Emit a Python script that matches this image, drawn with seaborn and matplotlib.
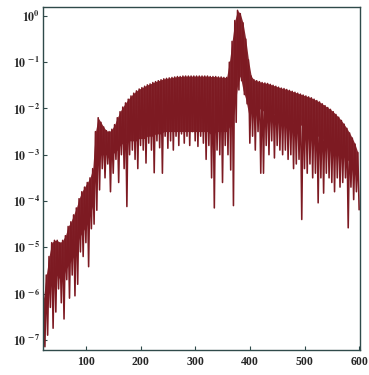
import numpy as np
import pandas as pd
import matplotlib
matplotlib.use("Agg")
import matplotlib.pyplot as plt
import seaborn as sns
from matplotlib.ticker import LogLocator, FixedLocator, MultipleLocator

# ---- data ----
osc_x = [22, 27, 32, 37, 42, 47, 52, 57, 62, 67, 72, 77, 82, 87, 92, 97,
         102, 107, 112, 117, 122, 127, 132, 137, 142, 147, 152, 157, 162, 167,
         172, 177, 182, 187, 192, 197, 202, 207, 212, 217, 222, 227, 232, 237,
         242, 247, 252, 257, 262, 267, 272, 277, 282, 287, 292, 297, 302, 307,
         312, 317, 322, 327, 332, 337, 342, 347, 352, 357, 362, 367, 372, 377,
         382, 387, 392, 397, 402, 407, 412, 417, 422, 427, 432, 437, 442, 447,
         452, 457, 462, 467, 472, 477, 482, 487, 492, 497, 502, 507, 512, 517,
         522, 527, 532, 537, 542, 547, 552, 557, 562, 567, 572, 577, 582, 587,
         592, 597]

# crest of each fringe (log10 of intensity)
peak_log10 = [-6.1, -5.6, -5.2, -4.9, -4.85, -4.85, -4.9, -4.85, -4.75, -4.55,
              -4.45, -4.3, -4.15, -3.95, -3.8, -3.7, -3.6, -3.5, -3.3, -2.5,
              -2.2, -2.3, -2.4, -2.48, -2.5, -2.45, -2.35, -2.2, -2.07, -1.97,
              -1.88, -1.8, -1.73, -1.67, -1.62, -1.58, -1.55, -1.52, -1.49, -1.47,
              -1.44, -1.42, -1.40, -1.38, -1.36, -1.35, -1.34, -1.33, -1.32, -1.31,
              -1.31, -1.30, -1.30, -1.30, -1.30, -1.30, -1.30, -1.30, -1.30, -1.30,
              -1.30, -1.31, -1.31, -1.31, -1.32, -1.32, -1.33, -1.33, -1.0, -0.55,
              -0.1, 0.12, 0.05, -0.15, -0.5, -0.95, -1.3, -1.38, -1.40, -1.42,
              -1.44, -1.45, -1.46, -1.48, -1.50, -1.52, -1.54, -1.56, -1.57, -1.59,
              -1.61, -1.63, -1.65, -1.67, -1.69, -1.71, -1.73, -1.75, -1.77, -1.80,
              -1.83, -1.86, -1.90, -1.94, -1.98, -2.02, -2.07, -2.13, -2.19, -2.26,
              -2.34, -2.43, -2.53, -2.64, -2.77, -2.95]

# lower edge of the densely filled band (log10)
floor_log10 = [-6.6, -6.2, -5.9, -5.7, -5.7, -5.6, -5.7, -5.7, -5.5, -5.4,
               -5.3, -5.2, -5.0, -4.8, -4.7, -4.6, -4.5, -4.3, -4.1, -3.4,
               -3.1, -3.0, -3.0, -3.0, -3.1, -3.0, -2.95, -2.9, -2.8, -2.75,
               -2.75, -2.7, -2.7, -2.7, -2.7, -2.65, -2.65, -2.65, -2.6, -2.6,
               -2.6, -2.55, -2.55, -2.55, -2.5, -2.5, -2.5, -2.5, -2.5, -2.5,
               -2.5, -2.5, -2.5, -2.5, -2.5, -2.5, -2.5, -2.5, -2.5, -2.5,
               -2.5, -2.55, -2.55, -2.5, -2.5, -2.5, -2.5, -2.5, -2.4, -2.3,
               -2.0, -1.5, -1.3, -1.6, -1.8, -2.1, -2.0, -2.0, -2.0, -2.0,
               -2.05, -2.05, -2.1, -2.1, -2.1, -2.15, -2.15, -2.2, -2.2, -2.25,
               -2.25, -2.3, -2.3, -2.35, -2.35, -2.4, -2.4, -2.45, -2.5, -2.55,
               -2.6, -2.6, -2.65, -2.7, -2.75, -2.8, -2.85, -2.9, -2.95, -3.0,
               -3.05, -3.1, -3.15, -3.2, -3.3, -3.45]

# deepest point of each fringe (log10)
dip_log10 = [-7.15, -6.9, -6.3, -6.75, -6.4, -5.9, -6.2, -6.55, -5.7, -6.1,
             -5.6, -6.05, -5.8, -5.1, -5.2, -4.9, -5.42, -4.6, -4.5, -4.2,
             -3.76, -3.3, -3.5, -3.2, -3.8, -3.4, -3.1, -3.6, -3.0, -3.3,
             -4.12, -3.0, -2.9, -3.1, -3.3, -2.8, -2.9, -3.18, -2.75, -2.9,
             -3.39, -2.7, -2.85, -3.4, -2.6, -2.86, -2.7, -2.9, -2.6, -2.8,
             -2.55, -2.75, -2.6, -2.8, -2.5, -2.7, -2.82, -2.6, -2.75, -3.1,
             -2.8, -3.5, -4.15, -2.9, -3.0, -3.6, -2.8, -3.0, -3.33, -4.1,
             -2.3, -1.6, -1.4, -1.7, -1.9, -2.75, -2.6, -2.9, -2.5, -3.4,
             -3.4, -2.8, -3.0, -2.7, -3.07, -2.8, -2.9, -3.0, -2.9, -3.1,
             -3.0, -3.3, -3.2, -3.1, -4.4, -3.3, -3.4, -3.2, -3.5, -3.4,
             -4.04, -3.5, -3.83, -3.4, -3.5, -3.6, -3.8, -3.5, -3.7, -3.6,
             -3.5, -4.58, -3.7, -3.97, -3.8, -4.19]

x_ticks = [100, 200, 300, 400, 500, 600]
y_decades = [-7, -6, -5, -4, -3, -2, -1, 0]

LINE_COLOR = "#7d1a22"
AX_COLOR = "#2f4a4a"

# ---- build the series: each fringe goes from its crest down to its dip ----
xs, ys = [], []
for x0, p, d in zip(osc_x, peak_log10, dip_log10):
    xs += [x0, x0 + 2.5]
    ys += [10.0 ** p, 10.0 ** d]
df = pd.DataFrame({"x": xs, "y": ys})
band = pd.DataFrame({"x": osc_x,
                     "top": [10.0 ** v for v in peak_log10],
                     "floor": [10.0 ** v for v in floor_log10]})

sns.set_style("white")
plt.rcParams["font.family"] = ["Liberation Serif", "DejaVu Serif"]
plt.rcParams["mathtext.fontset"] = "stix"

fig = plt.figure(figsize=(3.69, 3.75), dpi=100)
ax = fig.add_axes([0.1165, 0.0667, 0.859, 0.9143])

ax.fill_between(band["x"], band["top"], band["floor"], color=LINE_COLOR,
                linewidth=0, alpha=0.95)
sns.lineplot(data=df, x="x", y="y", estimator=None, sort=False,
             color=LINE_COLOR, linewidth=1.15, ax=ax)

ax.set_yscale("log")
ax.set_xlim(21, 601)
ax.set_ylim(10 ** -7.22, 10 ** 0.19)
ax.set_xlabel("")
ax.set_ylabel("")

ax.xaxis.set_major_locator(FixedLocator(x_ticks))
ax.xaxis.set_minor_locator(MultipleLocator(50))
ax.yaxis.set_major_locator(FixedLocator([10.0 ** e for e in y_decades]))
ax.yaxis.set_minor_locator(LogLocator(base=10, subs=np.arange(2, 10)))
ax.yaxis.set_minor_formatter(plt.NullFormatter())
ax.set_yticklabels([r"$\mathbf{10^{\,%d}}$" % e if e != 0 else r"$\mathbf{10^{0}}$"
                    for e in y_decades])
ax.set_xticklabels([str(t) for t in x_ticks], fontweight="bold")

ax.tick_params(axis="both", which="major", direction="in", length=3,
               width=0.8, color=AX_COLOR, labelsize=8.5, pad=2)
ax.tick_params(axis="both", which="minor", direction="in", length=1.5,
               width=0.6, color=AX_COLOR)
ax.tick_params(axis="x", which="major", pad=4)
ax.tick_params(left=True, bottom=True)

for side, sp in ax.spines.items():
    sp.set_visible(True)
    sp.set_color(AX_COLOR)
    sp.set_linewidth(1.0)

fig.savefig("out.png", dpi=100, facecolor="white")
